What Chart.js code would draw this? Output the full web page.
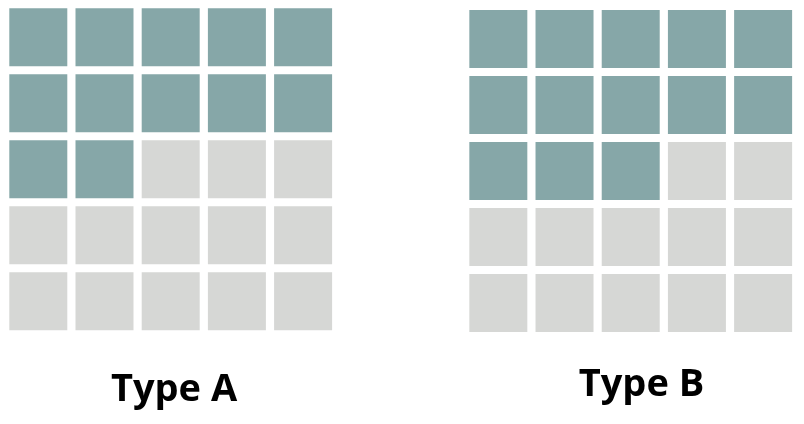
<!DOCTYPE html>
<html>
<head>
<meta charset="utf-8">
<script src="https://cdn.jsdelivr.net/npm/chart.js@4.4.1/dist/chart.umd.min.js"></script>
<style>
  html, body { margin: 0; padding: 0; background: #ffffff; }
  #wrap { position: relative; width: 804px; height: 424px; }
  #c { position: absolute; left: 0; top: 0; }
  .lbl { position: absolute; font-family: "Open Sans", sans-serif; font-weight: 700;
         font-size: 38px; line-height: 38px; color: #000; white-space: nowrap;
         transform: translateX(-50%); }
</style>
</head>
<body>
<div id="wrap">
  <canvas id="c" width="804" height="424"></canvas>
  <div class="lbl" id="lblA"></div>
  <div class="lbl" id="lblB"></div>
</div>
<script>
// ---- data ----
const categories = ["Type A", "Type B"];
const filledCounts = [12, 13];
const totalCells = [25, 25];
const gridColumns = 5;

// ---- style / layout ----
const filledColor = "#86a7a8";
const emptyColor = "#d6d7d5";
const groupXOffset = [0, 6.949];   // in grid units
const groupYOffset = [0, 0.026];
const labelPos = [{ x: 174, top: 366.8 }, { x: 641.5, top: 362 }];

const filledPts = [], emptyPts = [];
categories.forEach((cat, g) => {
  for (let i = 0; i < totalCells[g]; i++) {
    const col = i % gridColumns, row = Math.floor(i / gridColumns);
    const p = { x: groupXOffset[g] + col, y: groupYOffset[g] + row };
    (i < filledCounts[g] ? filledPts : emptyPts).push(p);
  }
});

const cellPx = 58;
const radius = (cellPx / 2) / Math.SQRT1_2;

new Chart(document.getElementById("c"), {
  type: "scatter",
  data: {
    datasets: [
      { label: "filled", data: filledPts, pointStyle: "rect", pointRadius: radius,
        pointHoverRadius: radius, backgroundColor: filledColor, borderWidth: 0, pointBorderWidth: 0 },
      { label: "empty", data: emptyPts, pointStyle: "rect", pointRadius: radius,
        pointHoverRadius: radius, backgroundColor: emptyColor, borderWidth: 0, pointBorderWidth: 0 }
    ]
  },
  options: {
    responsive: false,
    animation: false,
    events: [],
    layout: { padding: 0, autoPadding: false },
    plugins: { legend: { display: false }, tooltip: { enabled: false } },
    scales: {
      x: { type: "linear", display: false, min: -0.5785, max: -0.5785 + 804 / 66.2 },
      y: { type: "linear", display: false, reverse: true, min: -0.565, max: -0.565 + 424 / 66 }
    }
  }
});

categories.forEach((cat, g) => {
  const el = document.getElementById(g === 0 ? "lblA" : "lblB");
  el.textContent = cat;
  el.style.left = labelPos[g].x + "px";
  el.style.top = labelPos[g].top + "px";
});
</script>
</body>
</html>
